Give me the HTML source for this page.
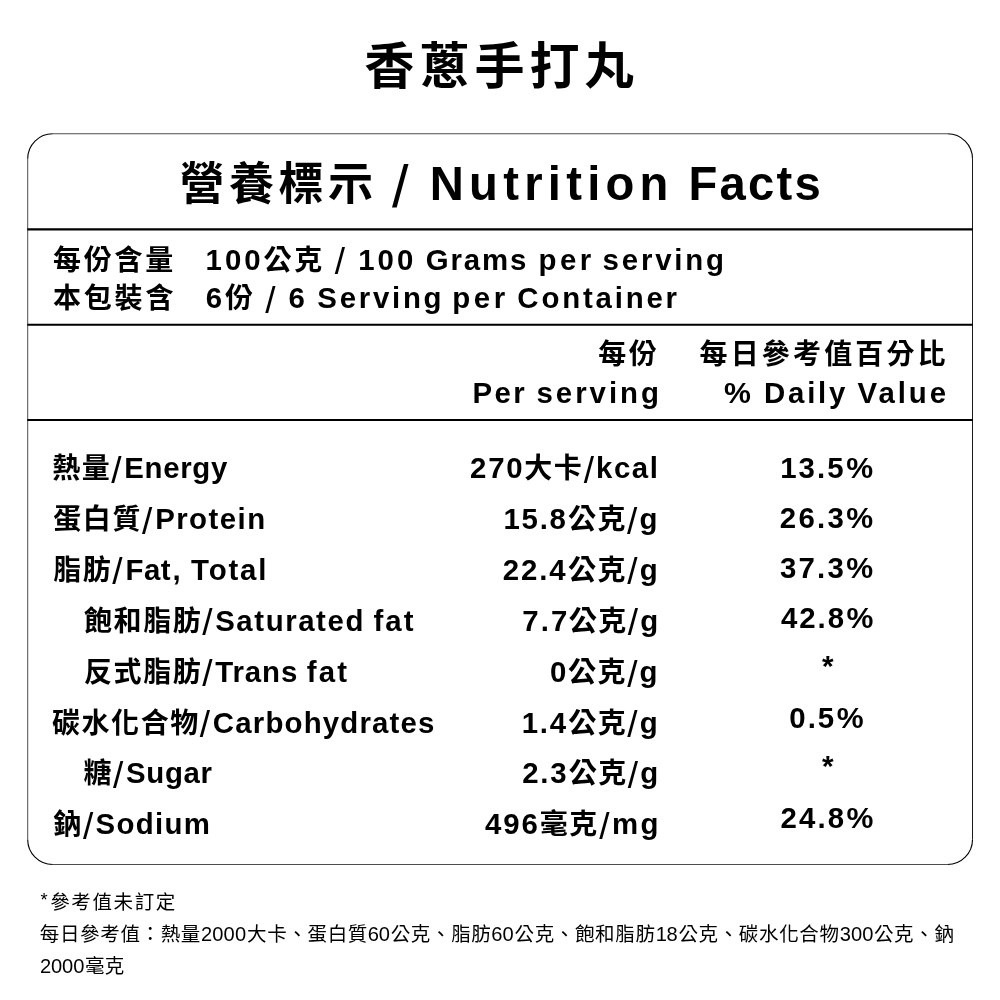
<!DOCTYPE html>
<html lang="zh-Hant">
<head>
<meta charset="utf-8">
<title>香蔥手打丸 營養標示 Nutrition Facts</title>
<style>
html,body{margin:0;padding:0;background:#fff}
body{width:1000px;height:1000px;position:relative;overflow:hidden;font-family:"Liberation Sans","Noto Sans CJK TC",sans-serif;color:#000}
.t{position:absolute;white-space:nowrap;line-height:40px;font-weight:700;margin:0}
.n{font-weight:400}
svg{position:absolute;left:0;top:0}
</style>
</head>
<body>
<svg width="1000" height="1000" viewBox="0 0 1000 1000" aria-hidden="true">
<g fill="none" stroke="#000">
<path stroke-width="0.7" d="M52.7 133.75H947.5M947.5 864.5H52.7M27.7 839.5V158.75"/>
<path stroke-width="0.9" d="M972.5 158.75V839.5"/>
<path stroke-width="1.1" d="M27.7 158.75A25 25 0 0 1 52.7 133.75M947.5 133.75A25 25 0 0 1 972.5 158.75M972.5 839.5A25 25 0 0 1 947.5 864.5M52.7 864.5A25 25 0 0 1 27.7 839.5"/>
<path stroke-width="2.1" d="M27.3 229.4H972.9M27.3 324.8H972.9M27.3 420H972.9"/>
</g>
</svg>
<h1 class="t" style="left:364.5px;top:47.2px;font-size:50px;letter-spacing:5px">香蔥手打丸</h1>
<h2 class="t" style="left:179.6px;top:163.7px;font-size:45px;letter-spacing:4.45px">營養標示 <span style="font-size:59.4px;margin-left:-2.39px;vertical-align:-7.51px;font-weight:400">/</span> <span style="font-size:47.2px;letter-spacing:5.26px;margin-left:-0.14px">Nutrition</span> <span style="font-size:47.2px;letter-spacing:2.25px;margin-left:-2.25px">Facts</span></h2>
<div class="t" style="left:52.9px;top:240.5px;font-size:28px;letter-spacing:2.8px">每份含量</div>
<div class="t" style="left:205.52px;top:239.5px;font-size:28px;letter-spacing:2.94px"><span style="font-size:29.4px;letter-spacing:3.04px">100</span><span style="margin-left:-0.29px">公克</span> <span style="font-size:36.96px;margin-left:-1.37px;vertical-align:-4.67px;font-weight:400">/</span> <span style="font-size:29.4px;letter-spacing:3.06px;margin-left:-0.48px">100</span> <span style="font-size:29.4px;letter-spacing:1.84px;margin-left:-1.25px">Grams</span> <span style="font-size:29.4px;letter-spacing:3.39px;margin-left:-0.38px">per</span> <span style="font-size:29.4px;letter-spacing:2.82px;margin-left:-2.65px">serving</span></div>
<div class="t" style="left:53px;top:279.2px;font-size:28px;letter-spacing:2.8px">本包裝含</div>
<div class="t" style="left:205.85px;top:278.2px;font-size:28px;letter-spacing:2.92px"><span style="font-size:29.4px">6</span><span style="margin-left:-0.11px">份</span> <span style="font-size:36.96px;margin-left:-1.52px;vertical-align:-4.67px;font-weight:400">/</span> <span style="font-size:29.4px;margin-left:-0.6px">6</span> <span style="font-size:29.4px;letter-spacing:2.74px;margin-left:-1.11px">Serving</span> <span style="font-size:29.4px;letter-spacing:3.5px;margin-left:-2.66px">per</span> <span style="font-size:29.4px;letter-spacing:2.81px;margin-left:-1.94px">Container</span></div>
<div class="t" style="left:598.25px;top:335.3px;font-size:28px;letter-spacing:2.5px">每份</div>
<div class="t" style="left:472.51px;top:372.61px;font-size:28px;letter-spacing:3.05px"><span style="font-size:29.4px;letter-spacing:2.42px">Per</span> <span style="font-size:29.4px;letter-spacing:2.99px;margin-left:-1.5px">serving</span></div>
<div class="t" style="left:699.6px;top:335.3px;font-size:28px;letter-spacing:3.14px">每日參考值百分比</div>
<div class="t" style="left:723.95px;top:372.61px;font-size:28px;letter-spacing:3.05px"><span style="font-size:30.24px">%</span> <span style="font-size:29.4px;letter-spacing:2.79px;margin-left:-0.74px">Daily</span> <span style="font-size:29.4px;letter-spacing:2.92px;margin-left:-1.52px">Value</span></div>
<div class="t" style="left:52.25px;top:448px;font-size:28px;letter-spacing:1.51px">熱量<span style="font-size:36.96px;margin-left:-0.04px;vertical-align:-4.67px;font-weight:400">/</span><span style="font-size:29.4px;letter-spacing:0.65px;margin-left:1.32px">Energy</span></div>
<div class="t" style="left:470.11px;top:448px;font-size:28px;letter-spacing:1.59px"><span style="font-size:29.4px;letter-spacing:1.76px">270</span><span style="margin-left:-0.16px">大卡</span><span style="font-size:36.96px;margin-left:0.18px;vertical-align:-4.67px;font-weight:400">/</span><span style="font-size:29.4px;letter-spacing:1.52px;margin-left:0.56px">kcal</span></div>
<div class="t" style="left:780.15px;top:448px;font-size:28px;letter-spacing:1.95px"><span style="font-size:29.4px;letter-spacing:2.05px">13.5</span><span style="font-size:30.24px;margin-left:0.66px">%</span></div>
<div class="t" style="left:53.25px;top:498.91px;font-size:28px;letter-spacing:1.6px">蛋白質<span style="font-size:36.96px;margin-left:-0.06px;vertical-align:-4.67px;font-weight:400">/</span><span style="font-size:29.4px;letter-spacing:1.46px;margin-left:1.27px">Protein</span></div>
<div class="t" style="left:503.42px;top:498.91px;font-size:28px;letter-spacing:1.56px"><span style="font-size:29.4px;letter-spacing:1.77px">15.8</span><span style="margin-left:0.32px">公克</span><span style="font-size:36.96px;margin-left:-0.17px;vertical-align:-4.67px;font-weight:400">/</span><span style="font-size:29.4px;margin-left:0.77px">g</span></div>
<div class="t" style="left:779.8px;top:498px;font-size:28px;letter-spacing:1.95px"><span style="font-size:29.4px;letter-spacing:2.29px">26.3</span><span style="font-size:30.24px">%</span></div>
<div class="t" style="left:53.25px;top:549.8px;font-size:28px;letter-spacing:1.53px">脂肪<span style="font-size:36.96px;margin-left:-0.04px;vertical-align:-4.67px;font-weight:400">/</span><span style="font-size:29.4px;letter-spacing:0.54px;margin-left:1.32px">Fat</span><span style="font-size:29.4px;margin-left:1.44px">,</span> <span style="font-size:29.4px;letter-spacing:1.83px;margin-left:-0.48px">Total</span></div>
<div class="t" style="left:502.8px;top:549.8px;font-size:28px;letter-spacing:1.64px"><span style="font-size:29.4px;letter-spacing:1.9px">22.4</span><span style="margin-left:0.38px">公克</span><span style="font-size:36.96px;margin-left:0.01px;vertical-align:-4.67px;font-weight:400">/</span><span style="font-size:29.4px;margin-left:0.59px">g</span></div>
<div class="t" style="left:780.03px;top:548px;font-size:28px;letter-spacing:1.95px"><span style="font-size:29.4px;letter-spacing:2.2px">37.3</span><span style="font-size:30.24px;margin-left:0.15px">%</span></div>
<div class="t" style="left:84px;top:600.7px;font-size:28px;letter-spacing:1.58px">飽和脂肪<span style="font-size:36.96px;margin-left:-0.04px;vertical-align:-4.67px;font-weight:400">/</span><span style="font-size:29.4px;margin-left:1.03px">Saturated</span> <span style="font-size:29.4px;letter-spacing:1.99px;margin-left:-0.79px">fat</span></div>
<div class="t" style="left:522.24px;top:600.7px;font-size:28px;letter-spacing:1.53px"><span style="font-size:29.4px;letter-spacing:2.08px">7.7</span><span style="margin-left:-0.56px">公克</span><span style="font-size:36.96px;margin-left:-0.11px;vertical-align:-4.67px;font-weight:400">/</span><span style="font-size:29.4px;margin-left:0.76px">g</span></div>
<div class="t" style="left:780.91px;top:598px;font-size:28px;letter-spacing:1.7px"><span style="font-size:29.4px;letter-spacing:2px">42.8</span><span style="font-size:30.24px;margin-left:0.32px">%</span></div>
<div class="t" style="left:84px;top:651.61px;font-size:28px;letter-spacing:1.58px">反式脂肪<span style="font-size:36.96px;margin-left:-0.04px;vertical-align:-4.67px;font-weight:400">/</span><span style="font-size:29.4px;letter-spacing:0.89px;margin-left:1.1px">Trans</span> <span style="font-size:29.4px;letter-spacing:2.07px;margin-left:-0.63px">fat</span></div>
<div class="t" style="left:549.96px;top:651.61px;font-size:28px;letter-spacing:1.6px"><span style="font-size:29.4px">0</span><span style="margin-left:0.09px">公克</span><span style="font-size:36.96px;vertical-align:-4.67px;font-weight:400">/</span><span style="font-size:29.4px;margin-left:0.46px">g</span></div>
<div class="t" style="left:821.98px;top:645.8px;font-size:28px;letter-spacing:1.7px"><span style="font-size:29.68px;vertical-align:2.21px">*</span></div>
<div class="t" style="left:52px;top:702.5px;font-size:28px;letter-spacing:1.56px">碳水化合物<span style="font-size:36.96px;margin-left:-0.07px;vertical-align:-4.67px;font-weight:400">/</span><span style="font-size:29.4px;letter-spacing:1.18px;margin-left:1.29px">Carbohydrates</span></div>
<div class="t" style="left:521.73px;top:702.5px;font-size:28px;letter-spacing:1.6px"><span style="font-size:29.4px;letter-spacing:1.71px">1.4</span><span style="margin-left:0.44px">公克</span><span style="font-size:36.96px;margin-left:-0.05px;vertical-align:-4.67px;font-weight:400">/</span><span style="font-size:29.4px;margin-left:0.65px">g</span></div>
<div class="t" style="left:789.27px;top:698px;font-size:28px;letter-spacing:1.83px"><span style="font-size:29.4px;letter-spacing:2.04px">0.5</span><span style="font-size:30.24px;margin-left:0.59px">%</span></div>
<div class="t" style="left:83.5px;top:753.41px;font-size:28px;letter-spacing:1.53px">糖<span style="font-size:36.96px;margin-left:-0.06px;vertical-align:-4.67px;font-weight:400">/</span><span style="font-size:29.4px;letter-spacing:0.71px;margin-left:1.13px">Sugar</span></div>
<div class="t" style="left:522.17px;top:753.41px;font-size:28px;letter-spacing:1.53px"><span style="font-size:29.4px;letter-spacing:1.84px">2.3</span><span style="margin-left:0.24px">公克</span><span style="font-size:36.96px;margin-left:-0.11px;vertical-align:-4.67px;font-weight:400">/</span><span style="font-size:29.4px;margin-left:0.76px">g</span></div>
<div class="t" style="left:821.98px;top:745.8px;font-size:28px;letter-spacing:1.7px"><span style="font-size:29.68px;vertical-align:2.21px">*</span></div>
<div class="t" style="left:53.25px;top:804.3px;font-size:28px;letter-spacing:1.63px">鈉<span style="font-size:36.96px;margin-left:0.17px;vertical-align:-4.67px;font-weight:400">/</span><span style="font-size:29.4px;letter-spacing:1.3px;margin-left:0.67px">Sodium</span></div>
<div class="t" style="left:485.09px;top:804.3px;font-size:28px;letter-spacing:1.7px"><span style="font-size:29.4px;letter-spacing:1.85px">496</span><span style="margin-left:-0.03px">毫克</span><span style="font-size:36.96px;margin-left:0.14px;vertical-align:-4.67px;font-weight:400">/</span><span style="font-size:29.4px;letter-spacing:2.36px;margin-left:0.88px">mg</span></div>
<div class="t" style="left:780.49px;top:798px;font-size:28px;letter-spacing:1.9px"><span style="font-size:29.4px;letter-spacing:2.14px">24.8</span><span style="font-size:30.24px;margin-left:0.26px">%</span></div>
<div class="t n" style="left:40.46px;top:880.46px;font-size:19.5px;letter-spacing:1.62px"><span style="font-size:18.33px;vertical-align:2.85px">*</span><span style="margin-left:1.03px">參考值未訂定</span></div>
<div class="t n" style="left:39.8px;top:914.3px;font-size:19.5px;letter-spacing:0.65px">每日參考值：熱量<span style="font-size:20.1px;letter-spacing:0.19px;margin-left:-0.14px">2000</span><span style="margin-left:0.74px">大卡、蛋白質</span><span style="font-size:20.1px;letter-spacing:-0.3px;margin-left:-0.16px">60</span><span style="margin-left:1.14px">公克、脂肪</span><span style="font-size:20.1px;letter-spacing:0.02px;margin-left:-0.25px">60</span><span style="margin-left:0.9px">公克、飽和脂肪</span><span style="font-size:20.1px;letter-spacing:-0.23px;margin-left:0.05px">18</span><span style="margin-left:0.92px">公克、碳水化合物</span><span style="font-size:20.1px;letter-spacing:0px;margin-left:0.16px">300</span><span style="margin-left:0.63px">公克、鈉</span></div>
<div class="t n" style="left:40.04px;top:946.3px;font-size:19.5px;letter-spacing:0.38px"><span style="font-size:20.1px;letter-spacing:-0.13px">2000</span><span style="margin-left:0.72px">毫克</span></div>
</body>
</html>
